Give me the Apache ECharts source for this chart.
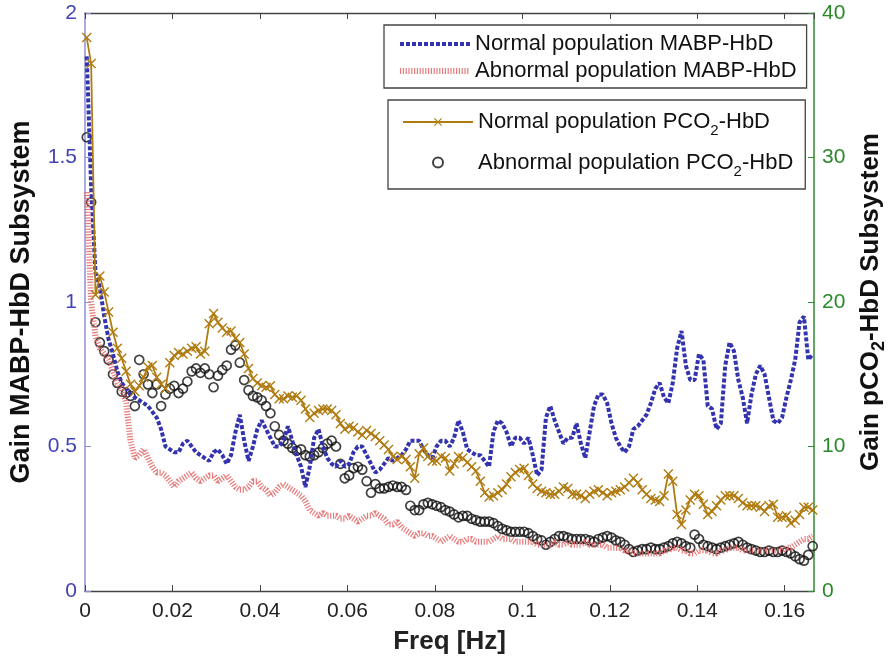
<!DOCTYPE html>
<html>
<head>
<meta charset="utf-8">
<script src="https://cdn.jsdelivr.net/npm/echarts@6/dist/echarts.min.js"></script>
<style>html,body{margin:0;padding:0;background:#fff}#c{width:896px;height:660px}</style>
</head>
<body>
<div id="c"></div>
<script>
// Frequency grid (Hz): bins spaced 0.001 Hz
var freqStart = 0.0004, freqStep = 0.001, nBins = 167;
var xTicks = ['0','0.02','0.04','0.06','0.08','0.1','0.12','0.14','0.16'];
var leftTicks = ['0','0.5','1','1.5','2'];
var rightTicks = ['0','10','20','30','40'];

// Normal population MABP-HbD (left axis)
var normalMABP = [1.85,1.4,1.1,1.05,0.95,0.87,0.82,0.76,0.72,0.70,
0.68,0.67,0.66,0.65,0.64,0.62,0.60,0.56,0.50,0.49,
0.48,0.48,0.51,0.52,0.50,0.48,0.47,0.46,0.45,0.48,
0.49,0.47,0.44,0.47,0.55,0.61,0.52,0.45,0.50,0.56,
0.59,0.56,0.53,0.50,0.50,0.52,0.57,0.52,0.47,0.43,
0.36,0.43,0.53,0.56,0.50,0.46,0.44,0.43,0.45,0.43,
0.44,0.48,0.50,0.50,0.47,0.44,0.41,0.42,0.44,0.46,
0.45,0.46,0.47,0.49,0.52,0.52,0.52,0.49,0.47,0.46,
0.50,0.52,0.52,0.50,0.53,0.59,0.55,0.49,0.48,0.47,
0.47,0.45,0.43,0.55,0.59,0.58,0.55,0.50,0.53,0.53,
0.51,0.53,0.47,0.40,0.42,0.60,0.64,0.59,0.55,0.51,
0.53,0.53,0.58,0.51,0.46,0.55,0.64,0.68,0.68,0.65,
0.58,0.53,0.50,0.48,0.50,0.56,0.57,0.59,0.61,0.65,
0.70,0.72,0.67,0.65,0.72,0.84,0.90,0.78,0.73,0.73,
0.82,0.80,0.64,0.63,0.56,0.58,0.78,0.86,0.83,0.73,
0.67,0.58,0.68,0.75,0.78,0.75,0.67,0.59,0.58,0.60,
0.67,0.73,0.80,0.93,0.95,0.80,0.82];

// Abnormal population MABP-HbD (left axis)
var abnormalMABP = [1.38,1.0,0.88,0.84,0.82,0.80,0.76,0.72,0.70,0.65,
0.52,0.46,0.47,0.49,0.46,0.43,0.41,0.41,0.40,0.38,
0.36,0.38,0.39,0.40,0.41,0.39,0.38,0.39,0.40,0.40,
0.38,0.39,0.40,0.38,0.36,0.35,0.35,0.36,0.38,0.38,
0.36,0.35,0.33,0.34,0.36,0.37,0.36,0.35,0.34,0.33,
0.31,0.28,0.27,0.26,0.27,0.26,0.26,0.26,0.25,0.25,
0.26,0.25,0.24,0.25,0.26,0.26,0.27,0.26,0.25,0.23,
0.23,0.24,0.22,0.21,0.20,0.19,0.20,0.20,0.19,0.19,
0.18,0.17,0.18,0.19,0.18,0.17,0.17,0.18,0.18,0.17,
0.17,0.17,0.17,0.18,0.19,0.18,0.18,0.18,0.17,0.17,
0.17,0.17,0.17,0.16,0.16,0.16,0.16,0.17,0.16,0.16,
0.17,0.16,0.16,0.16,0.17,0.16,0.16,0.16,0.16,0.15,
0.15,0.15,0.15,0.14,0.14,0.13,0.13,0.13,0.13,0.13,
0.13,0.13,0.14,0.14,0.15,0.15,0.14,0.14,0.13,0.13,
0.14,0.14,0.14,0.13,0.13,0.14,0.14,0.15,0.15,0.15,
0.14,0.14,0.14,0.14,0.14,0.14,0.14,0.14,0.14,0.14,
0.15,0.15,0.16,0.17,0.18,0.18,0.19];

// Normal population PCO2-HbD (right axis)
var normalPCO2 = [38.3,36.5,20.5,21.8,20.7,19.3,17.9,16.8,16.1,15.2,
14.3,13.8,14.2,14.8,15.5,15.6,14.8,14.3,14.0,15.8,
16.3,16.5,16.4,16.6,16.8,16.9,16.4,16.6,18.5,19.2,
18.6,18.2,17.9,18.0,17.5,17.2,16.4,15.4,14.7,14.4,
14.2,14.1,14.2,13.6,13.3,13.3,13.5,13.4,13.5,13.2,
12.6,12.0,12.3,12.5,12.6,12.6,12.5,12.2,11.6,11.2,
11.4,11.3,11.0,10.8,11.1,10.9,10.7,10.4,10.1,9.8,
9.3,9.1,9.3,9.1,8.6,7.8,9.5,9.9,9.3,9.0,
9.0,9.3,9.2,8.3,8.8,9.3,9.2,8.9,8.6,8.3,
7.6,6.8,6.5,6.6,6.8,7.0,7.4,7.9,8.2,8.4,
8.5,8.0,7.4,7.1,6.9,6.8,6.7,6.7,6.9,7.2,
7.1,6.7,6.7,6.6,6.4,6.7,6.9,7.0,6.8,6.6,
6.8,6.9,7.0,7.2,7.5,7.8,7.5,7.0,6.7,6.4,
6.3,6.2,6.6,8.1,7.6,5.3,4.6,5.6,6.3,6.7,
6.6,6.0,5.3,5.5,5.9,6.3,6.6,6.6,6.6,6.4,
6.1,5.9,5.9,5.9,5.8,5.5,5.9,6.0,5.1,5.1,
5.2,4.7,4.9,5.3,5.8,5.8,5.6];

// Abnormal population PCO2-HbD (right axis)
var abnormalPCO2 = [31.4,26.9,18.6,17.2,16.6,16.0,15.0,14.4,13.8,13.7,
13.5,12.8,16.0,15.0,14.3,13.7,14.3,12.8,13.6,14.0,
14.2,13.7,14.0,14.5,15.2,15.4,15.1,15.4,15.0,14.1,
14.9,15.3,15.6,16.7,17.0,15.8,14.6,13.9,13.5,13.4,
13.2,12.8,12.3,11.4,10.8,10.4,10.2,9.9,9.7,9.8,
9.4,9.3,9.4,9.6,9.9,10.2,10.4,10.0,8.8,7.8,
8.0,8.5,8.6,8.4,7.6,6.8,7.4,7.1,7.1,7.2,
7.3,7.2,7.2,7.0,5.9,5.6,5.6,6.0,6.1,6.0,
5.9,5.8,5.6,5.5,5.3,5.1,5.2,5.2,5.0,4.9,
4.8,4.8,4.8,4.7,4.5,4.3,4.2,4.1,4.1,4.1,
4.1,4.0,3.8,3.6,3.5,3.2,3.4,3.6,3.8,3.8,
3.7,3.6,3.6,3.6,3.6,3.5,3.4,3.6,3.7,3.8,
3.7,3.5,3.4,3.2,2.9,2.7,2.8,2.9,2.9,3.0,
2.9,2.9,3.0,3.1,3.3,3.4,3.3,3.1,3.0,3.9,
3.6,3.2,3.1,3.0,2.9,3.0,3.1,3.2,3.3,3.4,
3.2,3.0,2.9,2.8,2.7,2.7,2.8,2.7,2.7,2.8,
2.7,2.6,2.4,2.2,2.1,2.5,3.1];

var names = ['Normal population MABP-HbD','Abnormal population MABP-HbD',
             'Normal population PCO2-HbD','Abnormal population PCO2-HbD'];

var freq = [];
for (var i = 0; i < nBins; i++) freq.push(+(freqStart + i * freqStep).toFixed(4));
function pairs(v){ return v.map(function(y,i){ return [freq[i], y]; }); }

var FONT = '"Liberation Sans", Arial, Helvetica, sans-serif';
var GOLD = '#b07c12', BLUE = '#3333b0', RED = '#e36b6b';
var XSYM = 'path://M0,1L1,0L5,4L9,0L10,1L6,5L10,9L9,10L5,6L1,10L0,9L4,5Z';

var chart = echarts.init(document.getElementById('c'), null, {renderer:'canvas'});
var legendRich = {
  n: {fontSize: 22, fontFamily: FONT, color: '#111'},
  s: {fontSize: 15, fontFamily: FONT, color: '#111', padding: [18,0,0,0], verticalAlign: 'bottom'}
};
function legendFmt(name){
  return name.indexOf('PCO2') >= 0 ? '{n|' + name.replace('PCO2', 'PCO}{s|2}{n|') + '}' : '{n|' + name + '}';
}
chart.setOption({
  animation: false,
  backgroundColor: '#fff',
  textStyle: {fontFamily: FONT},
  grid: {left: 84, right: 80, top: 13, bottom: 68},
  legend: [{
    data: [
      {name: names[0], lineStyle: {width: 4}},
      {name: names[1], lineStyle: {width: 6}}
    ],
    orient: 'vertical', left: 384, top: 25,
    itemWidth: 70, itemHeight: 10, itemGap: 5,
    padding: [8, 10, 6, 13],
    borderColor: '#444', borderWidth: 1.3,
    itemStyle: {opacity: 0},
    textStyle: {fontSize: 22, color: '#111', fontFamily: FONT},
    selectedMode: false
  },{
    data: [names[2], names[3]],
    orient: 'vertical', left: 388, top: 100,
    itemWidth: 70, itemHeight: 10, itemGap: 13,
    padding: [11, 12, 10, 14],
    borderColor: '#444', borderWidth: 1.3,
    formatter: legendFmt,
    textStyle: {fontSize: 22, color: '#111', fontFamily: FONT, rich: legendRich},
    selectedMode: false
  }],
  xAxis: [{
    type: 'value', min: 0, max: 0.1667, interval: 0.02,
    name: 'Freq [Hz]', nameLocation: 'middle', nameGap: 38,
    nameTextStyle: {fontSize: 26, fontWeight: 'bold', color: '#222', fontFamily: FONT},
    axisLine: {show: true, onZero: false, lineStyle: {color: '#444', width: 1.3}},
    axisTick: {show: true, inside: true, length: 6, lineStyle: {color: '#444'}},
    axisLabel: {fontSize: 21, color: '#222', margin: 10, showMaxLabel: false,
      formatter: function(v){ var s = xTicks[Math.round(v/0.02)]; return s === undefined ? '' : s; }},
    splitLine: {show: false}
  },{
    type: 'value', position: 'top', min: 0, max: 0.1667, interval: 0.02,
    axisLine: {show: true, onZero: false, lineStyle: {color: '#444', width: 1.3}},
    axisTick: {show: true, inside: true, length: 6, lineStyle: {color: '#444'}},
    axisLabel: {show: false}, splitLine: {show: false}
  }],
  yAxis: [{
    type: 'value', min: 0, max: 2, interval: 0.5, position: 'left',
    name: 'Gain MABP-HbD Subsystem', nameLocation: 'middle', nameGap: 50, nameRotate: 90,
    nameTextStyle: {fontSize: 27, fontWeight: 'bold', color: '#111', fontFamily: FONT},
    axisLine: {show: true, onZero: false, lineStyle: {color: '#8f8fd6', width: 1.5}},
    axisTick: {show: true, inside: true, length: 6, lineStyle: {color: '#8f8fd6'}},
    axisLabel: {fontSize: 21, color: '#4343b5', margin: 8,
      formatter: function(v){ return leftTicks[Math.round(v/0.5)]; }},
    splitLine: {show: false}
  },{
    type: 'value', min: 0, max: 40, interval: 10, position: 'right',
    name: 'Gain pCO{s|2}-HbD Subsystem', nameLocation: 'middle', nameGap: 40, nameRotate: 90,
    nameTextStyle: {fontSize: 26, fontWeight: 'bold', color: '#111', fontFamily: FONT,
      rich: {s: {fontSize: 18, fontWeight: 'bold', color: '#111', fontFamily: FONT, padding: [16,0,0,0], verticalAlign: 'bottom'}}},
    axisLine: {show: true, onZero: false, lineStyle: {color: '#2e8b2e', width: 1.5}},
    axisTick: {show: true, inside: true, length: 6, lineStyle: {color: '#2e8b2e'}},
    axisLabel: {fontSize: 21, color: '#2a8a2a', margin: 8,
      formatter: function(v){ return rightTicks[Math.round(v/10)]; }},
    splitLine: {show: false}
  }],
  series: [{
    name: names[0], type: 'line', yAxisIndex: 0, data: pairs(normalMABP),
    showSymbol: false, symbol: 'none', color: BLUE,
    lineStyle: {color: BLUE, width: 4, type: [4, 2]}
  },{
    name: names[1], type: 'line', yAxisIndex: 0, data: pairs(abnormalMABP),
    showSymbol: false, symbol: 'none', color: RED,
    lineStyle: {color: RED, width: 6, type: [1.2, 1.6], opacity: 0.9}
  },{
    name: names[2], type: 'line', yAxisIndex: 1, data: pairs(normalPCO2),
    symbol: XSYM, symbolSize: 10, showAllSymbol: true, color: GOLD,
    itemStyle: {color: GOLD},
    lineStyle: {color: GOLD, width: 1.8}
  },{
    name: names[3], type: 'scatter', yAxisIndex: 1, data: pairs(abnormalPCO2),
    symbol: 'circle', symbolSize: 9,
    itemStyle: {color: 'rgba(0,0,0,0)', borderColor: '#111', borderWidth: 1.7}
  }]
});
</script>
</body>
</html>
